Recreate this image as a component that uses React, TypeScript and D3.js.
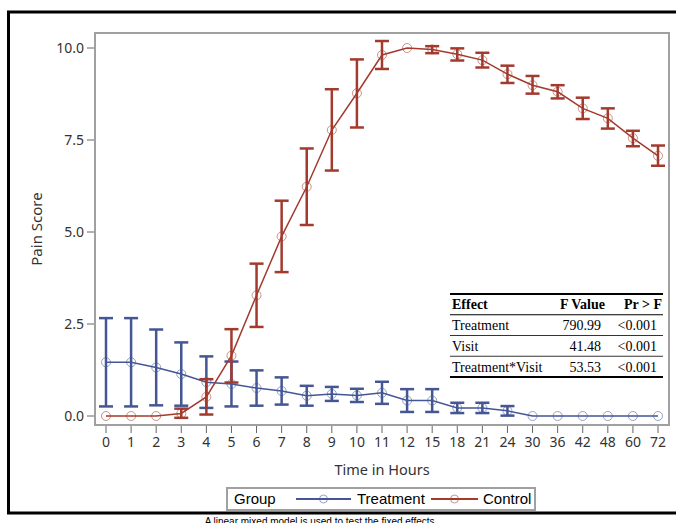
import React from "react";
import * as d3 from "d3";

const hours = ["0","1","2","3","4","5","6","7","8","9","10","11","12","15","18","21","24","30","36","42","48","60","72"];

const treatMean = [1.46,1.46,1.32,1.14,0.92,0.87,0.76,0.68,0.55,0.60,0.56,0.63,0.42,0.42,0.22,0.22,0.14,0,0,0,0,0,0];
const treatUpper = [2.66,2.66,2.35,2.0,1.62,1.48,1.24,1.05,0.82,0.79,0.74,0.93,0.73,0.73,0.36,0.36,0.27,null,null,null,null,null,null];
const treatLower = [0.26,0.26,0.29,0.28,0.22,0.26,0.28,0.31,0.28,0.41,0.38,0.33,0.11,0.11,0.08,0.08,0.01,null,null,null,null,null,null];

const ctrlMean = [0,0,0,0.07,0.52,1.64,3.28,4.88,6.23,7.77,8.77,9.81,10.0,9.96,9.83,9.67,9.29,8.99,8.81,8.36,8.09,7.55,7.07];
const ctrlUpper = [null,null,null,0.2,1.0,2.36,4.14,5.85,7.27,8.88,9.69,10.19,null,10.05,9.99,9.87,9.52,9.24,8.99,8.65,8.36,7.75,7.35];
const ctrlLower = [null,null,null,-0.05,0.04,0.91,2.42,3.91,5.19,6.67,7.84,9.43,null,9.86,9.66,9.47,9.05,8.76,8.63,8.07,7.81,7.33,6.80];

const yTicks = [0, 2.5, 5, 7.5, 10];

const tableHeader = ["Effect", "F Value", "Pr > F"];
const tableEffects = ["Treatment", "Visit", "Treatment*Visit"];
const tableF = ["790.99", "41.48", "53.53"];
const tableP = ["<0.001", "<0.001", "<0.001"];

const legendTitle = "Group";
const seriesNames = ["Treatment", "Control"];
const caption = "A linear mixed model is used to test the fixed effects.";

const BLUE = "#445694";
const RED = "#A23A2E";

export default function App() {
  const W = 676, H = 523;
  const frame = { l: 95, r: 669, t: 33, b: 425 };
  const x = d3.scalePoint<string>().domain(hours).range([106, 658]);
  const y = d3.scaleLinear().domain([0, 10]).range([416, 48]);
  const line = d3.line<number>().x((_, i) => x(hours[i])!).y((d) => y(d));

  const series = [
    { name: seriesNames[0], color: BLUE, mean: treatMean, up: treatUpper, lo: treatLower },
    { name: seriesNames[1], color: RED, mean: ctrlMean, up: ctrlUpper, lo: ctrlLower },
  ];
  const capW = 7;
  const sans = "'Noto Sans', 'DejaVu Sans', sans-serif";
  const arial = "'Liberation Sans', Arial, sans-serif";
  const serif = "'Liberation Serif', 'Times New Roman', serif";

  // table geometry
  const tL = 450, tR = 663, tTop = 294, tBot = 377;
  const rowH = (tBot - tTop) / 4;
  const rowLines = d3.range(5).map((i) => tTop + i * rowH);
  const rowCenters = d3.range(4).map((i) => tTop + (i + 0.5) * rowH);
  const fRight = 601, pRight = 657;

  return (
    <svg width={W} height={H} style={{ position: "absolute", left: 0, top: 0, background: "#fff" }}>
      <rect x={0} y={0} width={W} height={H} fill="#fff" />
      {/* outer black frame */}
      <path d={`M${W + 2},12 H8.5 V513 H${W + 2}`} fill="none" stroke="#000" strokeWidth={3} />
      <text x={321} y={524.5} textAnchor="middle" fontFamily={arial} fontSize={10} fill="#000">{caption}</text>

      {/* plot frame */}
      <rect x={frame.l} y={frame.t} width={frame.r - frame.l} height={frame.b - frame.t} fill="none" stroke="#a0a0a0" strokeWidth={2} />

      {/* y axis */}
      {yTicks.map((t) => (
        <g key={t}>
          <line x1={frame.l - 8} x2={frame.l - 1} y1={y(t)} y2={y(t)} stroke="#666" strokeWidth={1} />
          <text x={frame.l - 11} y={y(t)} dy="0.35em" textAnchor="end" fontFamily={sans} fontSize={14} fill="#333">{t.toFixed(1)}</text>
        </g>
      ))}
      <text transform={`translate(37,${(frame.t + frame.b) / 2}) rotate(-90)`} textAnchor="middle" dy="0.35em" fontFamily={sans} fontSize={15} fill="#333">Pain Score</text>

      {/* x axis */}
      {hours.map((h) => (
        <g key={h}>
          <line x1={x(h)} x2={x(h)} y1={frame.b + 1} y2={frame.b + 8} stroke="#666" strokeWidth={1} />
          <text x={x(h)} y={442} dy="0.35em" textAnchor="middle" fontFamily={sans} fontSize={14} fill="#333">{h}</text>
        </g>
      ))}
      <text x={(frame.l + frame.r) / 2} y={470} dy="0.35em" textAnchor="middle" fontFamily={sans} fontSize={14.5} fill="#333">Time in Hours</text>

      {/* series */}
      {series.map((s) => (
        <g key={s.name}>
          {s.mean.map((m, i) => {
            const u = s.up[i], l = s.lo[i];
            if (u == null || l == null) return null;
            const cx = x(hours[i])!;
            return (
              <g key={i} stroke={s.color} strokeWidth={2.5}>
                <line x1={cx} x2={cx} y1={y(u)} y2={y(l)} />
                <line x1={cx - capW} x2={cx + capW} y1={y(u)} y2={y(u)} />
                <line x1={cx - capW} x2={cx + capW} y1={y(l)} y2={y(l)} />
              </g>
            );
          })}
          <path d={line(s.mean) || ""} fill="none" stroke={s.color} strokeWidth={1.5} />
          {s.mean.map((m, i) => (
            <circle key={i} cx={x(hours[i])} cy={y(m)} r={4.5} fill="none" stroke={s.color} strokeOpacity={0.55} strokeWidth={1} />
          ))}
        </g>
      ))}

      {/* table */}
      <g fontFamily={serif} fontSize={14} fill="#000">
        <line x1={tL} x2={tR} y1={rowLines[0]} y2={rowLines[0]} stroke="#000" strokeWidth={2} />
        <line x1={tL} x2={tR} y1={rowLines[1]} y2={rowLines[1]} stroke="#000" strokeWidth={1.2} />
        <line x1={tL} x2={tR} y1={rowLines[2]} y2={rowLines[2]} stroke="#000" strokeWidth={0.8} />
        <line x1={tL} x2={tR} y1={rowLines[3]} y2={rowLines[3]} stroke="#000" strokeWidth={0.8} />
        <line x1={tL} x2={tR} y1={rowLines[4]} y2={rowLines[4]} stroke="#000" strokeWidth={2} />
        <text x={tL + 2} y={rowCenters[0]} dy="0.35em" fontWeight="bold">{tableHeader[0]}</text>
        <text x={fRight + 4} y={rowCenters[0]} dy="0.35em" fontWeight="bold" textAnchor="end">{tableHeader[1]}</text>
        <text x={tR - 1} y={rowCenters[0]} dy="0.35em" fontWeight="bold" textAnchor="end">{tableHeader[2]}</text>
        {tableEffects.map((e, i) => (
          <g key={e}>
            <text x={tL + 2} y={rowCenters[i + 1]} dy="0.35em">{e}</text>
            <text x={fRight} y={rowCenters[i + 1]} dy="0.35em" textAnchor="end">{tableF[i]}</text>
            <text x={pRight} y={rowCenters[i + 1]} dy="0.35em" textAnchor="end">{tableP[i]}</text>
          </g>
        ))}
      </g>

      {/* legend */}
      <g fontFamily={arial} fontSize={15} fill="#000">
        <rect x={227} y={488} width={308} height={22} fill="#fff" stroke="#a0a0a0" strokeWidth={2} />
        <text x={234} y={499} dy="0.35em">{legendTitle}</text>
        <line x1={296} x2={351} y1={499} y2={499} stroke={BLUE} strokeWidth={2} />
        <circle cx={323.5} cy={499} r={4} fill="none" stroke={BLUE} strokeOpacity={0.55} />
        <text x={357} y={499} dy="0.35em">{seriesNames[0]}</text>
        <line x1={431} x2={478} y1={499} y2={499} stroke={RED} strokeWidth={2} />
        <circle cx={454.5} cy={499} r={4} fill="none" stroke={RED} strokeOpacity={0.55} />
        <text x={483} y={499} dy="0.35em">{seriesNames[1]}</text>
      </g>
    </svg>
  );
}
